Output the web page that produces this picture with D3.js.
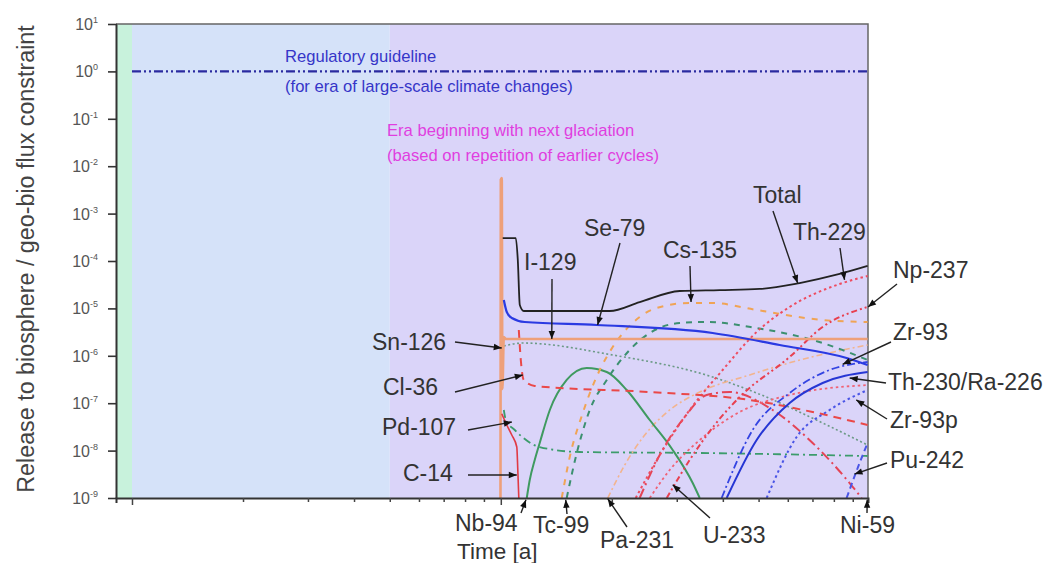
<!DOCTYPE html>
<html>
<head>
<meta charset="utf-8">
<script src="https://cdn.jsdelivr.net/npm/d3@7"></script>
<style>
  body { margin: 0; background: #fff; }
  text { font-family: "Liberation Sans", Arial, sans-serif; }
</style>
</head>
<body>
<script>
// release curves, [time in years, release / constraint]
var total = [[1.012e5,3.05e-4],[1.098e5,3.05e-4],[1.112e5,1.05e-4],[1.126e5,1.18e-5],[1.154e5,8.81e-6],[1.974e5,8.81e-6],[2.380e5,1.36e-5],[3.056e5,2.33e-5],[3.921e5,2.44e-5],[5.033e5,2.57e-5],[6.460e5,3.43e-5],[8.292e5,5.32e-5],[9.876e5,7.85e-5]];
var se79 = [[1.019e5,1.50e-5],[1.038e5,8.39e-6],[1.071e5,6.27e-6],[1.161e5,5.16e-6],[1.820e5,4.47e-6],[3.753e5,3.03e-6],[5.702e5,1.69e-6],[8.662e5,8.99e-7],[9.876e5,6.40e-7]];
var i129 = [[0.998e5,1e-9],[1.000e5,5.2e-3],[1.006e5,5.64e-3],[1.010e5,2e-7],[1.019e5,2.5e-6],[1.032e5,2.26e-6],[9.876e5,2.26e-6]];
var sn126 = [[1.019e5,1.61e-6],[1.147e5,1.86e-6],[2.011e5,1.04e-6],[3.753e5,3.57e-7],[4.940e5,1.64e-7],[7.458e5,3.82e-8],[9.876e5,1.31e-8]];
var cl36 = [[1.119e5,3.50e-6],[1.133e5,8.15e-7],[1.154e5,3.09e-7],[1.236e5,2.31e-7],[2.534e5,1.72e-7],[4.729e5,1.17e-7],[7.007e5,6.52e-8],[9.876e5,3.47e-8]];
var pd107 = [[1.019e5,7.19e-8],[1.032e5,4.42e-8],[1.091e5,2.72e-8],[1.275e5,1.19e-8],[1.637e5,9.34e-9],[3.462e5,8.90e-9],[9.876e5,7.69e-9]];
var c14 = [[1.006e5,6e-8],[1.038e5,3.47e-8],[1.071e5,2.13e-8],[1.105e5,1.19e-8],[1.112e5,3.90e-9],[1.119e5,1e-9]];
var nb94 = [[1.176e5,1e-9],[1.198e5,2.40e-9],[1.236e5,6.34e-9],[1.275e5,1.45e-8],[1.358e5,7.19e-8],[1.509e5,3.09e-7],[1.710e5,5.53e-7],[1.938e5,4.55e-7],[2.195e5,1.90e-7],[2.534e5,4.42e-8],[2.925e5,1.03e-8],[3.314e5,2.07e-9],[3.462e5,1e-9]];
var tc99 = [[1.509e5,1e-9],[1.607e5,8.90e-9],[1.743e5,7.19e-8],[1.938e5,3.09e-7],[2.236e5,1.33e-6],[2.487e5,2.75e-6],[3.056e5,4.92e-6],[3.616e5,5.16e-6],[4.940e5,3.86e-6],[7.458e5,1.86e-6],[9.876e5,8.15e-7]];
var cs135 = [[1.463e5,1e-9],[1.538e5,7.33e-9],[1.668e5,6.21e-8],[1.855e5,5.02e-7],[2.011e5,1.53e-6],[2.380e5,6.59e-6],[2.647e5,1.02e-5],[3.252e5,1.30e-5],[3.753e5,1.30e-5],[4.940e5,9.25e-6],[7.458e5,5.69e-6],[9.876e5,5.16e-6]];
var pa231 = [[1.950e5,1e-9],[2.168e5,4.97e-9],[2.456e5,2.13e-8],[2.871e5,7.19e-8],[3.462e5,1.72e-7],[4.729e5,3.94e-7],[6.460e5,8.15e-7],[9.876e5,1.69e-6]];
var th229 = [[2.322e5,1e-9],[2.697e5,8.07e-9],[3.252e5,7.19e-8],[3.995e5,5.02e-7],[4.940e5,3.18e-6],[6.070e5,1.07e-5],[8.292e5,3.27e-5],[9.876e5,4.83e-5]];
var np237 = [[2.818e5,1e-9],[3.252e5,6.34e-9],[3.800e5,3.47e-8],[4.443e5,1.35e-7],[6.070e5,9.44e-7],[7.458e5,4.06e-6],[9.876e5,1.07e-5]];
var u233 = [[2.534e5,1e-9],[2.871e5,3.90e-9],[3.462e5,1.67e-8],[4.443e5,6.52e-8],[6.070e5,1.49e-7],[9.876e5,2.42e-7]];
var ni59 = [[2.380e5,1e-9],[2.697e5,8.07e-9],[3.152e5,5.12e-8],[3.616e5,1.49e-7],[4.174e5,1.72e-7],[5.459e5,7.19e-8],[7.007e5,1.45e-8],[8.826e5,2.07e-9],[9.513e5,1e-9]];
var zr93 = [[3.970e5,1e-9],[4.818e5,2.72e-8],[6.070e5,1.64e-7],[7.791e5,5.02e-7],[9.876e5,7.40e-7]];
var th230 = [[4.097e5,1e-9],[4.940e5,1.67e-8],[6.070e5,1.01e-7],[7.458e5,2.67e-7],[9.876e5,4.55e-7]];
var zr93p = [[5.259e5,1e-9],[6.341e5,1.94e-8],[7.791e5,7.19e-8],[9.876e5,1.90e-7]];
var pu242 = [[8.662e5,1e-9],[9.395e5,5.48e-9],[9.876e5,1.45e-8]];

// regulatory guideline and era boundaries (years)
var guideline = [[1e4,1],[9.876e5,1]];
var eraBounds = [9.05e3, 1e4, 5e4, 9.9e5];
var yTickExps = [1,0,-1,-2,-3,-4,-5,-6,-7,-8,-9];

// curve name -> data, with line style
var series = [
  {name:"Pd-107", data:pd107, color:"#3c9c6c", w:1.8, dash:"8,4,2,4"},
  {name:"Sn-126", data:sn126, color:"#6c9a86", w:1.6, dash:"2,2.5"},
  {name:"Pa-231", data:pa231, color:"#f2b48e", w:1.6, dash:"6,3,2,3"},
  {name:"Nb-94",  data:nb94,  color:"#3f9a60", w:2,   dash:null},
  {name:"Tc-99",  data:tc99,  color:"#3c9070", w:2,   dash:"6,6"},
  {name:"Cs-135", data:cs135, color:"#f0a455", w:2,   dash:"6,7"},
  {name:"Ni-59",  data:ni59,  color:"#e44456", w:2,   dash:"10,4,2,4"},
  {name:"U-233",  data:u233,  color:"#f06274", w:1.8, dash:"2.5,3"},
  {name:"Th-229", data:th229, color:"#ee4c60", w:2,   dash:"2.5,3"},
  {name:"Np-237", data:np237, color:"#e84050", w:2,   dash:"6,3,2,3,2,3"},
  {name:"Cl-36",  data:cl36,  color:"#ea4848", w:2,   dash:"8,6"},
  {name:"Zr-93p", data:zr93p, color:"#4a55e6", w:2,   dash:"2.5,3"},
  {name:"Pu-242", data:pu242, color:"#4a55e6", w:2,   dash:"6,4"},
  {name:"Zr-93",  data:zr93,  color:"#3444e2", w:1.8, dash:"8,3,2,3"},
  {name:"Th-230/Ra-226", data:th230, color:"#2636d4", w:2, dash:null},
  {name:"I-129",  data:i129,  color:"#eea07a", w:2.6, dash:null},
  {name:"C-14",   data:c14,   color:"#e03a44", w:1.6, dash:null},
  {name:"Se-79",  data:se79,  color:"#2a3ae2", w:2.2, dash:null},
  {name:"Total",  data:total, color:"#222222", w:1.8, dash:null}
];

// labels: text box (px) and arrow from point (px) to tip [t, value]
var notes = [
  {t:"Total",  x:753, y:203, from:[773,211], tip:[6.38e5,3.43e-5]},
  {t:"Th-229", x:793, y:240, from:[840,248], tip:[8.55e5,3.98e-5]},
  {t:"Cs-135", x:663, y:258, from:[690,266], tip:[3.28e5,1.36e-5]},
  {t:"Se-79",  x:584, y:236, from:[620,243], tip:[1.83e5,4.47e-6]},
  {t:"I-129",  x:524, y:270, from:[552,279], tip:[1.375e5,2.26e-6]},
  {t:"Np-237", x:893, y:278, from:[897,284], tip:[9.9e5,1.07e-5]},
  {t:"Zr-93",  x:893, y:340, from:[891,342], tip:[8.45e5,6.6e-7]},
  {t:"Th-230/Ra-226", x:888, y:390, from:[886,383], tip:[8.83e5,3.4e-7]},
  {t:"Zr-93p", x:890, y:428, from:[887,419], tip:[9.2e5,1.17e-7]},
  {t:"Pu-242", x:890, y:468, from:[887,463], tip:[9.1e5,3.2e-9]},
  {t:"Sn-126", x:372, y:350, from:[455,342], tip:[1.006e5,1.46e-6]},
  {t:"Cl-36",  x:383, y:395, from:[455,392], tip:[1.147e5,3.94e-7]},
  {t:"Pd-107", x:382, y:435, from:[468,430], tip:[1.071e5,4.0e-8]},
  {t:"C-14",   x:403, y:481, from:[468,475], tip:[1.105e5,3.05e-9]},
  {t:"Nb-94",  x:455, y:531, from:[521,513], tip:[1.17e5,9.2e-10]},
  {t:"Tc-99",  x:533, y:533, from:[567,514], tip:[1.5e5,9.2e-10]},
  {t:"Pa-231", x:600, y:548, from:[627,527], tip:[1.95e5,9.6e-10]},
  {t:"U-233",  x:703, y:543, from:[710,518], tip:[2.925e5,1.9e-9]},
  {t:"Ni-59",  x:840, y:533, from:[867,513], tip:[9.85e5,9.2e-10]}
];

var width = 1051, height = 563;
var mLeft = 116, mRight = 868, mTop = 24, mBottom = 498;

var x = d3.scaleLog().domain([eraBounds[0], eraBounds[3]]).range([mLeft, mRight]);
var y = d3.scaleLog().domain([1e-9, 10]).range([mBottom, mTop]);

var svg = d3.select("body").append("svg")
    .attr("width", width)
    .attr("height", height);

var defs = svg.append("defs");
defs.append("clipPath").attr("id", "plot")
  .append("rect").attr("x", mLeft).attr("y", mTop).attr("width", mRight - mLeft).attr("height", mBottom - mTop);
defs.append("marker").attr("id", "arr")
    .attr("viewBox", "0 -5 10 10").attr("refX", 10).attr("refY", 0)
    .attr("markerWidth", 10).attr("markerHeight", 8).attr("markerUnits", "userSpaceOnUse")
    .attr("orient", "auto")
  .append("path").attr("d", "M0,-4L10,0L0,4Z").attr("fill", "#111");

// era background bands
var eraColors = ["#c8f2dc", "#d5e2f9", "#dad4f9"];
svg.append("g").selectAll("rect")
  .data(eraColors)
  .enter().append("rect")
    .attr("x", function(d, i) { return x(eraBounds[i]); })
    .attr("y", mTop)
    .attr("width", function(d, i) { return x(eraBounds[i + 1]) - x(eraBounds[i]); })
    .attr("height", mBottom - mTop)
    .attr("fill", function(d) { return d; });

// frame top and right
svg.append("path")
    .attr("d", "M" + mLeft + "," + mTop + "H" + mRight + "V" + mBottom)
    .attr("fill", "none").attr("stroke", "#666").attr("stroke-width", 1.5);

var line = d3.line()
    .x(function(d) { return x(d[0]); })
    .y(function(d) { return y(d[1]); })
    .curve(d3.curveMonotoneX);

var plot = svg.append("g").attr("clip-path", "url(#plot)");

plot.append("path")
    .datum(guideline)
    .attr("d", d3.line().x(function(d) { return x(d[0]); }).y(function(d) { return y(d[1]); }))
    .attr("fill", "none").attr("stroke", "#2a2aa0").attr("stroke-width", 2.2)
    .attr("stroke-dasharray", "9,3,2,3,2,3");

plot.selectAll(".curve")
  .data(series)
  .enter().append("path")
    .attr("class", "curve")
    .attr("d", function(d) { return line(d.data); })
    .attr("fill", "none")
    .attr("stroke", function(d) { return d.color; })
    .attr("stroke-width", function(d) { return d.w; })
    .attr("stroke-dasharray", function(d) { return d.dash; })
    .attr("stroke-linejoin", "round");

function isDecade(d) {
  var l = Math.log10(d);
  return Math.abs(l - Math.round(l)) < 1e-6;
}

// axes
svg.append("g")
    .attr("transform", "translate(0," + mBottom + ")")
    .call(d3.axisBottom(x).tickValues(x.ticks(10)).tickFormat("").tickSizeOuter(0).tickSize(5))
    .call(function(g) {
      g.select(".domain").attr("stroke", "#333").attr("stroke-width", 2);
      g.selectAll(".tick line").attr("stroke", "#444").attr("stroke-width", 1.5)
        .attr("y2", function(d) { return isDecade(d) ? 7 : 4; });
    });

svg.append("g")
    .attr("transform", "translate(" + mLeft + ",0)")
    .call(d3.axisLeft(y).tickValues(y.ticks(10)).tickFormat("").tickSizeOuter(0))
    .call(function(g) {
      g.select(".domain").attr("stroke", "#333").attr("stroke-width", 2);
      g.selectAll(".tick line").attr("stroke", "#333").attr("stroke-width", 1.6)
        .attr("x1", 1)
        .attr("x2", function(d) { return isDecade(d) ? -8 : -4; });
    });

var yl = svg.append("g").selectAll("text")
  .data(yTickExps)
  .enter().append("text")
    .attr("x", 98)
    .attr("y", function(d) { return y(Math.pow(10, d)) + 6; })
    .attr("text-anchor", "end")
    .attr("fill", "#555")
    .attr("font-size", 16)
    .text("10");
yl.append("tspan")
    .attr("dy", -7)
    .attr("font-size", 9)
    .text(function(d) { return d < 0 ? "-" + (-d) : d; });

// axis titles
svg.append("text")
    .attr("transform", "translate(34,259) rotate(-90)")
    .attr("text-anchor", "middle")
    .attr("fill", "#444")
    .attr("font-size", 23.3)
    .text("Release to biosphere / geo-bio flux constraint");

svg.append("text")
    .attr("x", 457).attr("y", 559)
    .attr("fill", "#333")
    .attr("font-size", 22.5)
    .text("Time [a]");

// era / guideline captions
var captions = [
  {t:"Regulatory guideline", x:285, y:62, c:"#3535c8"},
  {t:"(for era of large-scale climate changes)", x:285, y:92, c:"#3535c8"},
  {t:"Era beginning with next glaciation", x:387, y:136, c:"#e03ee0"},
  {t:"(based on repetition of earlier cycles)", x:387, y:161, c:"#e03ee0"}
];
svg.append("g").selectAll("text")
  .data(captions)
  .enter().append("text")
    .attr("x", function(d) { return d.x; })
    .attr("y", function(d) { return d.y; })
    .attr("fill", function(d) { return d.c; })
    .attr("font-size", 16.6)
    .text(function(d) { return d.t; });

// nuclide labels with arrows
var ann = svg.append("g");
ann.selectAll("line")
  .data(notes)
  .enter().append("line")
    .attr("x1", function(d) { return d.from[0]; })
    .attr("y1", function(d) { return d.from[1]; })
    .attr("x2", function(d) { return x(d.tip[0]); })
    .attr("y2", function(d) { return y(d.tip[1]); })
    .attr("stroke", "#222").attr("stroke-width", 1.4)
    .attr("marker-end", "url(#arr)");
ann.selectAll("text")
  .data(notes)
  .enter().append("text")
    .attr("x", function(d) { return d.x; })
    .attr("y", function(d) { return d.y; })
    .attr("fill", "#333")
    .attr("font-size", 23)
    .text(function(d) { return d.t; });
</script>
</body>
</html>
